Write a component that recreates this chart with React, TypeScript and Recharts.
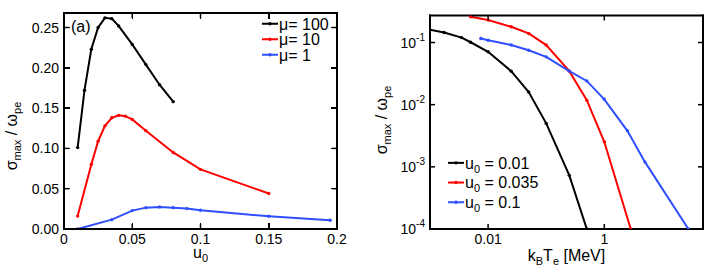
import React from 'react';
import { LineChart, Line, XAxis, YAxis, Legend, Label } from 'recharts';

const FONT = '"Liberation Sans", Arial, Helvetica, sans-serif';

// (a) sigma_max / omega_pe against u0, for three mass ratios
const u0Mu100 = [0.01, 0.015, 0.02, 0.025, 0.03, 0.035, 0.04, 0.05, 0.06, 0.07, 0.08];
const sigmaMu100 = [0.101, 0.172, 0.223, 0.25, 0.262, 0.261, 0.252, 0.229, 0.204, 0.179, 0.158];
const u0Mu10 = [0.01, 0.02, 0.025, 0.03, 0.035, 0.04, 0.045, 0.05, 0.06, 0.08, 0.1, 0.15];
const sigmaMu10 = [0.016, 0.08, 0.109, 0.128, 0.138, 0.141, 0.14, 0.136, 0.122, 0.095, 0.074, 0.044];
const u0Mu1 = [0.01, 0.035, 0.05, 0.06, 0.07, 0.08, 0.09, 0.1, 0.15, 0.195];
const sigmaMu1 = [0.0, 0.0116, 0.0228, 0.0265, 0.0274, 0.0265, 0.0253, 0.0232, 0.0158, 0.0108];
const muLabels = ['μ= 100', 'μ= 10', 'μ= 1'];
const u0Ticks = [0, 0.05, 0.1, 0.15, 0.2];
const sigmaTicks = [0, 0.05, 0.1, 0.15, 0.2, 0.25];

// (b) sigma_max / omega_pe against k_B T_e, for three drift speeds
const kTeU001 = [0.001, 0.00175, 0.0035, 0.005, 0.01, 0.025, 0.05, 0.1, 0.25, 0.5];
const sigmaU001 = [0.16, 0.145, 0.12, 0.101, 0.071, 0.0346, 0.016, 0.005, 0.00073, 0.0001];
const kTeU0035 = [0.005, 0.01, 0.025, 0.05, 0.1, 0.25, 0.5, 1, 2.85];
const sigmaU0035 = [0.26, 0.23, 0.179, 0.14, 0.091, 0.0346, 0.0118, 0.00253, 0.0001];
const kTeU01 = [0.0075, 0.01, 0.025, 0.05, 0.1, 0.25, 0.5, 1, 2.5, 5, 28];
const sigmaU01 = [0.116, 0.109, 0.091, 0.075, 0.0588, 0.0346, 0.0241, 0.0122, 0.0038, 0.0012, 0.0001];
const u0Labels = ['0.01', '0.035', '0.1'];
const kTeTicks = [0.01, 1];
const logTicks = [1e-4, 1e-3, 1e-2, 1e-1];

const COLORS = ['#000000', '#ff0000', '#2f4fff'];

const U0_DOMAIN = [0, 0.2];
const SIGMA_DOMAIN = [0, 0.268];
// plot box of panel (a), in chart pixels
const BOX_A = { left: 64, top: 13, width: 273, height: 216 };

const zip = (xs: number[], ys: number[]) => xs.map((x, i) => ({ x, y: ys[i] }));

type Side = 'bottom' | 'top' | 'left' | 'right';
const TICK_LEN = 5;
const txt = { fontSize: 14, fontFamily: FONT, fill: '#000' };

// inward tick mark plus its label; x/y arrive on the axis line (tickSize=0, tickMargin=0)
const makeTick = (side: Side, label?: (v: number) => React.ReactNode) => (props: any) => {
  const { x, y, payload } = props;
  const d =
    side === 'bottom' ? `M${x},${y}V${y - TICK_LEN}` :
    side === 'top' ? `M${x},${y}V${y + TICK_LEN}` :
    side === 'left' ? `M${x},${y}H${x + TICK_LEN}` :
    `M${x},${y}H${x - TICK_LEN}`;
  return (
    <g>
      <path d={d} stroke="#000" strokeWidth={1.5} fill="none" />
      {label && side === 'bottom' && (
        <text x={x} y={y + 5} dy="0.71em" textAnchor="middle" {...txt}>{label(payload.value)}</text>
      )}
      {label && side === 'left' && (
        <text x={x - 5} y={y} dy="0.36em" textAnchor="end" {...txt}>{label(payload.value)}</text>
      )}
    </g>
  );
};

// box edge along the axis, with an optional axis title
const makeEdge = (side: Side, title?: (vb: any) => React.ReactNode) => (p: any) => {
  const { x, y, width, height } = p.viewBox;
  const d =
    side === 'bottom' ? `M${x},${y}H${x + width}` :
    side === 'top' ? `M${x},${y + height}H${x + width}` :
    side === 'left' ? `M${x + width},${y}V${y + height}` :
    `M${x},${y}V${y + height}`;
  return (
    <g>
      <path d={d} stroke="#000" strokeWidth={2} fill="none" strokeLinecap="square" />
      {title && title(p.viewBox)}
    </g>
  );
};

const powerLabel = (v: number) => (
  <>
    10<tspan fontSize={10} dy={-7}>{String(Math.round(Math.log10(v)))}</tspan>
  </>
);

const sigmaTitle = (cx: number, cy: number) => (
  <text x={cx} y={cy} transform={`rotate(-90, ${cx}, ${cy})`} textAnchor="middle" fontSize={16} fontFamily={FONT} fill="#000">
    σ<tspan fontSize={11} dy={4}>max</tspan>
    <tspan dy={-4}>{' / ω'}</tspan>
    <tspan fontSize={11} dy={4}>pe</tspan>
  </text>
);

const makeLegend = (rowH: number, order: string[], label: (v: string) => React.ReactNode) => (props: any) => {
  const items = [...(props.payload || [])].sort(
    (a: any, b: any) => order.indexOf(a.value) - order.indexOf(b.value)
  );
  return (
    <svg width={110} height={rowH * items.length} style={{ display: 'block', overflow: 'visible' }}>
      {items.map((entry: any, i: number) => {
        const cy = rowH * i + rowH / 2;
        return (
          <g key={i}>
            <path d={`M0,${cy}H16`} stroke={entry.color} strokeWidth={2} />
            <circle cx={8} cy={cy} r={1.7} fill={entry.color} />
            <text x={17} y={cy} dy="0.36em" fontSize={16} fontFamily={FONT} fill="#000">
              {label(entry.value)}
            </text>
          </g>
        );
      })}
    </svg>
  );
};

// frame and inward ticks of panel (a) as plain html boxes on top of its chart
function FrameA() {
  const { left, top, width, height } = BOX_A;
  const px = (v: number) => left + ((v - U0_DOMAIN[0]) / (U0_DOMAIN[1] - U0_DOMAIN[0])) * width;
  const py = (v: number) => top + height - ((v - SIGMA_DOMAIN[0]) / (SIGMA_DOMAIN[1] - SIGMA_DOMAIN[0])) * height;
  const mark = (l: number, t: number, w: number, h: number, key: string) => (
    <div key={key} style={{ position: 'absolute', left: l, top: t, width: w, height: h, background: '#000' }} />
  );
  return (
    <div style={{ position: 'absolute', left: 0, top: 0, width: 354, height: 276, pointerEvents: 'none' }}>
      <div
        style={{
          position: 'absolute',
          left: left - 1,
          top: top - 1,
          width: width + 2,
          height: height + 2,
          border: '2px solid #000',
          boxSizing: 'border-box',
        }}
      />
      {u0Ticks.map((v) => [
        mark(px(v) - 0.75, top + height - 1 - TICK_LEN, 1.5, TICK_LEN, `b${v}`),
        mark(px(v) - 0.75, top + 1, 1.5, TICK_LEN, `t${v}`),
      ])}
      {sigmaTicks.map((v) => [
        mark(left + 1, py(v) - 0.75, TICK_LEN, 1.5, `l${v}`),
        mark(left + width - 1 - TICK_LEN, py(v) - 0.75, TICK_LEN, 1.5, `r${v}`),
      ])}
    </div>
  );
}

const bare = { axisLine: false, tickLine: false, tickSize: 0, tickMargin: 0, allowDataOverflow: true };

function PanelA() {
  return (
    <div style={{ position: 'absolute', left: 0, top: 0, width: 354, height: 276 }}>
      <LineChart
        width={354}
        height={276}
        margin={{ top: BOX_A.top - 1, right: 354 - BOX_A.left - BOX_A.width - 1, bottom: 276 - BOX_A.top - BOX_A.height - 30, left: 0 }}
      >
        <XAxis {...bare} xAxisId="b" type="number" dataKey="x" domain={U0_DOMAIN} ticks={u0Ticks} height={30}
          tick={makeTick('bottom', (v) => String(v))}>
          <Label content={makeEdge('bottom', (vb) => (
            <text x={vb.x + vb.width / 2} y={vb.y + 29} textAnchor="middle" fontSize={16} fontFamily={FONT} fill="#000">
              u<tspan fontSize={11} dy={4}>0</tspan>
            </text>
          ))} />
        </XAxis>
        <XAxis {...bare} xAxisId="t" orientation="top" type="number" dataKey="x" domain={U0_DOMAIN} ticks={u0Ticks}
          height={1} tick={makeTick('top')}>
          <Label content={makeEdge('top')} />
        </XAxis>
        <YAxis {...bare} yAxisId="l" type="number" domain={SIGMA_DOMAIN} ticks={sigmaTicks} width={BOX_A.left}
          tick={makeTick('left', (v) => v.toFixed(2))}>
          <Label content={makeEdge('left', (vb) => sigmaTitle(vb.x + 17, 136))} />
        </YAxis>
        <YAxis {...bare} yAxisId="r" orientation="right" type="number" domain={SIGMA_DOMAIN} ticks={sigmaTicks}
          width={1} tick={makeTick('right')}>
          <Label content={makeEdge('right')} />
        </YAxis>
        <Legend
          layout="horizontal"
          verticalAlign="middle"
          align="center"
          wrapperStyle={{ left: 262, top: 16, width: 90 }}
          content={makeLegend(15.5, muLabels, (v) => v)}
        />
        <Line xAxisId="b" yAxisId="l" data={zip(u0Mu100, sigmaMu100)} dataKey="y" name={muLabels[0]}
          stroke={COLORS[0]} strokeWidth={2} dot={{ r: 1.7, fill: COLORS[0], strokeWidth: 0 }} isAnimationActive={false} />
        <Line xAxisId="b" yAxisId="l" data={zip(u0Mu10, sigmaMu10)} dataKey="y" name={muLabels[1]}
          stroke={COLORS[1]} strokeWidth={2} dot={{ r: 1.7, fill: COLORS[1], strokeWidth: 0 }} isAnimationActive={false} />
        <Line xAxisId="b" yAxisId="l" data={zip(u0Mu1, sigmaMu1)} dataKey="y" name={muLabels[2]}
          stroke={COLORS[2]} strokeWidth={2} dot={{ r: 1.7, fill: COLORS[2], strokeWidth: 0 }} isAnimationActive={false} />
      </LineChart>
      <FrameA />
    </div>
  );
}

function PanelB() {
  return (
    <div style={{ position: 'absolute', left: 354, top: 0 }}>
      <LineChart width={354} height={276} margin={{ top: 14.5, right: 4, bottom: 17, left: 0 }}>
        <XAxis {...bare} xAxisId="b" type="number" dataKey="x" scale="log" domain={[0.001, 50]} ticks={kTeTicks}
          height={30} tick={makeTick('bottom', (v) => String(v))}>
          <Label content={makeEdge('bottom', (vb) => (
            <text x={vb.x + vb.width / 2} y={vb.y + 32} textAnchor="middle" fontSize={16} fontFamily={FONT} fill="#000">
              k<tspan fontSize={11} dy={4}>B</tspan>
              <tspan dy={-4}>T</tspan>
              <tspan fontSize={11} dy={4}>e</tspan>
              <tspan dy={-4}>{' [MeV]'}</tspan>
            </text>
          ))} />
        </XAxis>
        <XAxis {...bare} xAxisId="t" orientation="top" type="number" dataKey="x" scale="log" domain={[0.001, 50]}
          ticks={kTeTicks} height={1} tick={makeTick('top')}>
          <Label content={makeEdge('top')} />
        </XAxis>
        <YAxis {...bare} yAxisId="l" type="number" scale="log" domain={[1e-4, 0.272]} ticks={logTicks} width={76}
          tick={makeTick('left', powerLabel)}>
          <Label content={makeEdge('left', (vb) => sigmaTitle(vb.x + 33, 120))} />
        </YAxis>
        <YAxis {...bare} yAxisId="r" orientation="right" type="number" scale="log" domain={[1e-4, 0.272]}
          ticks={logTicks} width={1} tick={makeTick('right')}>
          <Label content={makeEdge('right')} />
        </YAxis>
        <Legend
          layout="horizontal"
          verticalAlign="middle"
          align="center"
          wrapperStyle={{ left: 94, top: 152.5, width: 110 }}
          content={makeLegend(19.7, u0Labels, (v) => (
            <>
              u<tspan fontSize={11} dy={4}>0</tspan>
              <tspan dy={-4}>{` = ${v}`}</tspan>
            </>
          ))}
        />
        <Line xAxisId="b" yAxisId="l" data={zip(kTeU001, sigmaU001)} dataKey="y" name={u0Labels[0]}
          stroke={COLORS[0]} strokeWidth={2} dot={{ r: 1.7, fill: COLORS[0], strokeWidth: 0 }} isAnimationActive={false} />
        <Line xAxisId="b" yAxisId="l" data={zip(kTeU0035, sigmaU0035)} dataKey="y" name={u0Labels[1]}
          stroke={COLORS[1]} strokeWidth={2} dot={{ r: 1.7, fill: COLORS[1], strokeWidth: 0 }} isAnimationActive={false} />
        <Line xAxisId="b" yAxisId="l" data={zip(kTeU01, sigmaU01)} dataKey="y" name={u0Labels[2]}
          stroke={COLORS[2]} strokeWidth={2} dot={{ r: 1.7, fill: COLORS[2], strokeWidth: 0 }} isAnimationActive={false} />
      </LineChart>
    </div>
  );
}

export default function App() {
  return (
    <div style={{ position: 'absolute', left: 0, top: 0, width: 708, height: 276, background: '#fff' }}>
      <PanelA />
      <PanelB />
      <div style={{ position: 'absolute', left: 71, top: 18, fontSize: 16, fontFamily: FONT, lineHeight: '18px' }}>(a)</div>
    </div>
  );
}
